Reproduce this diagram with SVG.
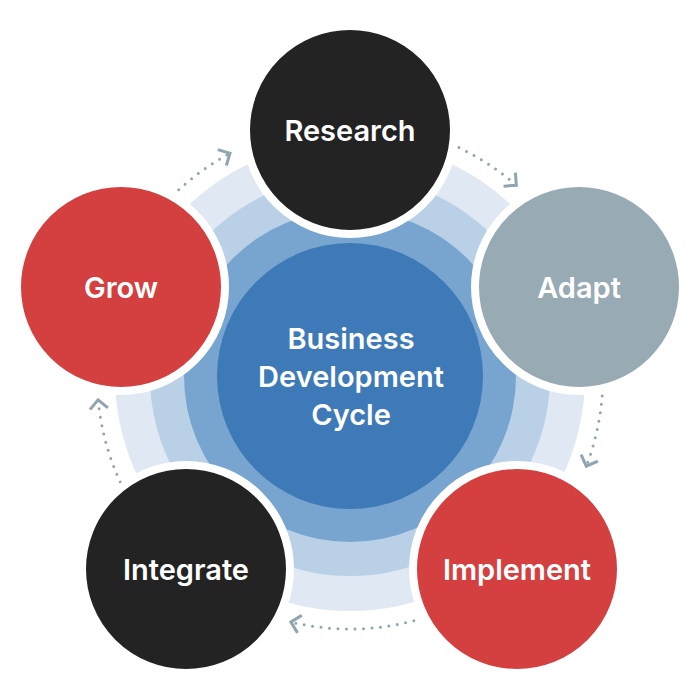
<svg xmlns="http://www.w3.org/2000/svg" width="700" height="700" viewBox="0 0 700 700">
<defs>
<style>
.node{stroke:#ffffff;stroke-width:8}
.black{fill:#232323}
.red{fill:#d43f3f}
.gray{fill:#98aab4}
.lbl{fill:#ffffff;font-family:Inter,"Noto Sans",sans-serif;font-weight:600;font-size:29px;text-anchor:middle;dominant-baseline:central}
.conn{fill:none;stroke:#8fa5b0;stroke-width:3;stroke-linecap:round;stroke-dasharray:0 8.5}
</style>
<marker id="chev" markerUnits="userSpaceOnUse" markerWidth="30" markerHeight="30" refX="0" refY="0" orient="auto" overflow="visible">
<path d="M-9,-9 L0,0 L-9,9" fill="none" stroke="#8fa5b0" stroke-width="3"/>
</marker>
</defs>
<rect width="700" height="700" fill="#ffffff"/>
<g id="rings">
<circle cx="350" cy="376" r="235" fill="#dfe8f3"/>
<circle cx="350" cy="376" r="200" fill="#b9d0e6"/>
<circle cx="350" cy="376" r="166" fill="#78a5d0"/>
</g>
<g id="center">
<circle cx="350" cy="376" r="133" fill="#3d7ab7"/>
<text class="lbl" x="351" y="338">Business</text>
<text class="lbl" x="351" y="376">Development</text>
<text class="lbl" x="351" y="414">Cycle</text>
</g>
<g id="connectors">
<path class="conn" d="M178.7,189.8 A253,253 0 0 1 230,153.3" marker-end="url(#chev)"/>
<path class="conn" d="M458.9,147.6 A253,253 0 0 1 516.3,185.3" marker-end="url(#chev)"/>
<path class="conn" d="M602.2,395.9 A253,253 0 0 1 586.3,466.2" marker-end="url(#chev)"/>
<path class="conn" d="M413.8,620.8 A253,253 0 0 1 290.9,622" marker-end="url(#chev)"/>
<path class="conn" d="M120.3,482.1 A253,253 0 0 1 98.1,399.8" marker-end="url(#chev)"/>
</g>
<g id="research">
<circle class="node black" cx="350" cy="130" r="104"/>
<text class="lbl" x="350" y="130">Research</text>
</g>
<g id="adapt">
<circle class="node gray" cx="579" cy="287" r="104"/>
<text class="lbl" x="579" y="287">Adapt</text>
</g>
<g id="implement">
<circle class="node red" cx="517" cy="569" r="104"/>
<text class="lbl" x="517" y="569">Implement</text>
</g>
<g id="integrate">
<circle class="node black" cx="186" cy="569" r="104"/>
<text class="lbl" x="186" y="569">Integrate</text>
</g>
<g id="grow">
<circle class="node red" cx="121" cy="287" r="104"/>
<text class="lbl" x="121" y="287">Grow</text>
</g>
</svg>
